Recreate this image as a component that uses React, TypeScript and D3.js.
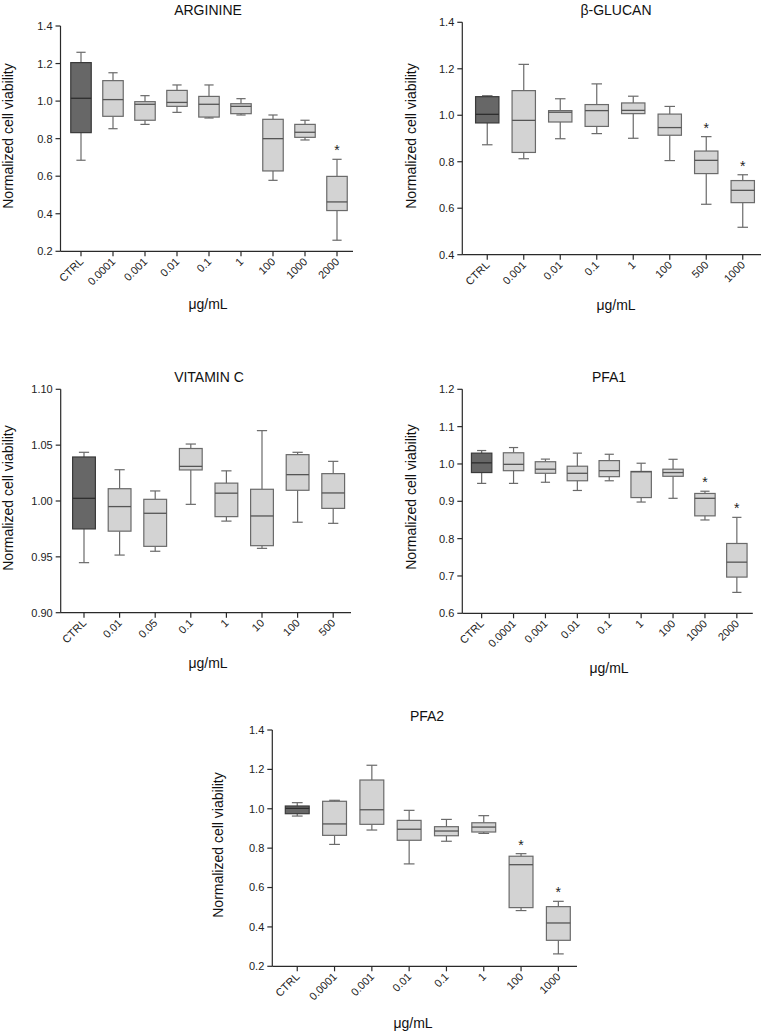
import React from "react";
import * as d3 from "d3";

// ---------- DATA ----------
// each stat row: [min, q1, median, q3, max]
const arginineDoses = ["CTRL", "0.0001", "0.001", "0.01", "0.1", "1", "100", "1000", "2000"];
const arginineStats: number[][] = [
  [0.685, 0.832, 1.015, 1.205, 1.26],
  [0.853, 0.919, 1.008, 1.109, 1.151],
  [0.876, 0.898, 0.983, 0.997, 1.029],
  [0.94, 0.972, 0.993, 1.057, 1.086],
  [0.91, 0.915, 0.983, 1.025, 1.086],
  [0.926, 0.933, 0.972, 0.986, 1.013],
  [0.578, 0.628, 0.8, 0.903, 0.926],
  [0.793, 0.807, 0.834, 0.876, 0.898],
  [0.259, 0.417, 0.463, 0.599, 0.69],
];
const arginineSig = [false, false, false, false, false, false, false, false, true];
const arginineTicks = [0.2, 0.4, 0.6, 0.8, 1.0, 1.2, 1.4];

const glucanDoses = ["CTRL", "0.001", "0.01", "0.1", "1", "100", "500", "1000"];
const glucanStats: number[][] = [
  [0.873, 0.967, 1.004, 1.08, 1.084],
  [0.813, 0.84, 0.978, 1.106, 1.219],
  [0.899, 0.971, 1.013, 1.02, 1.071],
  [0.921, 0.952, 1.02, 1.046, 1.135],
  [0.901, 1.007, 1.021, 1.053, 1.082],
  [0.805, 0.914, 0.947, 1.005, 1.038],
  [0.617, 0.749, 0.806, 0.846, 0.908],
  [0.518, 0.624, 0.677, 0.719, 0.744],
];
const glucanSig = [false, false, false, false, false, false, true, true];
const glucanTicks = [0.4, 0.6, 0.8, 1.0, 1.2, 1.4];

const vitaminCDoses = ["CTRL", "0.01", "0.05", "0.1", "1", "10", "100", "500"];
const vitaminCStats: number[][] = [
  [0.9448, 0.975, 1.0024, 1.0394, 1.0436],
  [0.9516, 0.973, 0.995, 1.011, 1.028],
  [0.955, 0.9594, 0.989, 1.0015, 1.009],
  [0.997, 1.0278, 1.031, 1.047, 1.051],
  [0.982, 0.986, 1.007, 1.016, 1.027],
  [0.9576, 0.96, 0.9866, 1.0105, 1.063],
  [0.981, 1.0096, 1.0236, 1.0415, 1.0436],
  [0.98, 0.9934, 1.0072, 1.0245, 1.0355],
];
const vitaminCSig = [false, false, false, false, false, false, false, false];
const vitaminCTicks = [0.9, 0.95, 1.0, 1.05, 1.1];

const pfa1Doses = ["CTRL", "0.0001", "0.001", "0.01", "0.1", "1", "100", "1000", "2000"];
const pfa1Stats: number[][] = [
  [0.948, 0.977, 1.003, 1.029, 1.036],
  [0.948, 0.982, 0.999, 1.03, 1.044],
  [0.951, 0.975, 0.986, 1.006, 1.013],
  [0.929, 0.955, 0.975, 0.994, 1.029],
  [0.955, 0.966, 0.982, 1.009, 1.026],
  [0.898, 0.91, 0.979, 0.98, 1.002],
  [0.908, 0.967, 0.977, 0.986, 1.0125],
  [0.85, 0.861, 0.908, 0.921, 0.927],
  [0.656, 0.697, 0.737, 0.787, 0.857],
];
const pfa1Sig = [false, false, false, false, false, false, false, true, true];
const pfa1Ticks = [0.6, 0.7, 0.8, 0.9, 1.0, 1.1, 1.2];

const pfa2Doses = ["CTRL", "0.0001", "0.001", "0.01", "0.1", "1", "100", "1000"];
const pfa2Stats: number[][] = [
  [0.963, 0.975, 1.002, 1.014, 1.031],
  [0.819, 0.865, 0.923, 1.038, 1.043],
  [0.892, 0.921, 0.995, 1.146, 1.221],
  [0.72, 0.84, 0.896, 0.941, 0.992],
  [0.835, 0.863, 0.887, 0.909, 0.946],
  [0.875, 0.882, 0.907, 0.929, 0.965],
  [0.483, 0.498, 0.716, 0.759, 0.772],
  [0.263, 0.332, 0.42, 0.503, 0.53],
];
const pfa2Sig = [false, false, false, false, false, false, true, true];
const pfa2Ticks = [0.2, 0.4, 0.6, 0.8, 1.0, 1.2, 1.4];

const yLabel = "Normalized cell viability";
const xLabel = "μg/mL";

// ---------- STYLE ----------
const FONT = "Arial, 'Liberation Sans', Helvetica, sans-serif";
const AXIS = "#2a2a2a";
const CTRL_FILL = "#676767";
const CTRL_STROKE = "#3a3a3a";
const BOX_FILL = "#d3d3d3";
const BOX_STROKE = "#6a6a6a";

type Layout = {
  axisX: number; top: number; bottom: number; bandStart: number; bandEnd: number;
  yDomain: [number, number]; fmt: string;
  titleX: number; titleY: number; ylabX: number; ylabY: number; xlabX: number; xlabY: number;
};

function Panel({ title, doses, stats, sig, ticks, L }: {
  title: string; doses: string[]; stats: number[][]; sig: boolean[]; ticks: number[]; L: Layout;
}) {
  const y = d3.scaleLinear().domain(L.yDomain).range([L.bottom, L.top]);
  const x = d3.scaleBand<string>().domain(doses).range([L.bandStart, L.bandEnd]).paddingInner(0).paddingOuter(0);
  const step = x.step();
  const bw = step * 0.64;
  const cw = bw * 0.45;
  const fmt = d3.format(L.fmt);
  return (
    <g>
      <text x={L.titleX} y={L.titleY} textAnchor="middle" fontSize={14} fontFamily={FONT} fill="#111">{title}</text>
      {/* y axis */}
      <line x1={L.axisX} x2={L.axisX} y1={L.top} y2={L.bottom} stroke={AXIS} strokeWidth={1.2} />
      {ticks.map((t) => (
        <g key={t}>
          <line x1={L.axisX - 5} x2={L.axisX} y1={y(t)} y2={y(t)} stroke={AXIS} strokeWidth={1.2} />
          <text x={L.axisX - 8} y={y(t)} dy="0.36em" textAnchor="end" fontSize={11} fontFamily={FONT} fill="#222">{fmt(t)}</text>
        </g>
      ))}
      {/* x axis */}
      <line x1={L.axisX} x2={L.bandEnd} y1={L.bottom} y2={L.bottom} stroke={AXIS} strokeWidth={1.2} />
      {doses.map((d) => {
        const cx = (x(d) as number) + step / 2;
        return (
          <g key={d}>
            <line x1={cx} x2={cx} y1={L.bottom} y2={L.bottom + 5} stroke={AXIS} strokeWidth={1.2} />
            <text transform={`translate(${cx + 3},${L.bottom + 11}) rotate(-45)`} textAnchor="end" fontSize={11} fontFamily={FONT} fill="#222">{d}</text>
          </g>
        );
      })}
      {/* boxes */}
      {stats.map((s, i) => {
        const d = doses[i];
        const cx = (x(d) as number) + step / 2;
        const isCtrl = i === 0;
        const fill = isCtrl ? CTRL_FILL : BOX_FILL;
        const stroke = isCtrl ? CTRL_STROKE : BOX_STROKE;
        const [mn, q1, md, q3, mx] = s;
        return (
          <g key={d}>
            <line x1={cx} x2={cx} y1={y(mx)} y2={y(q3)} stroke={BOX_STROKE} strokeWidth={1.2} />
            <line x1={cx} x2={cx} y1={y(q1)} y2={y(mn)} stroke={BOX_STROKE} strokeWidth={1.2} />
            <line x1={cx - cw / 2} x2={cx + cw / 2} y1={y(mx)} y2={y(mx)} stroke={BOX_STROKE} strokeWidth={1.2} />
            <line x1={cx - cw / 2} x2={cx + cw / 2} y1={y(mn)} y2={y(mn)} stroke={BOX_STROKE} strokeWidth={1.2} />
            <rect x={cx - bw / 2} y={y(q3)} width={bw} height={y(q1) - y(q3)} fill={fill} stroke={stroke} strokeWidth={1.2} />
            <line x1={cx - bw / 2} x2={cx + bw / 2} y1={y(md)} y2={y(md)} stroke={isCtrl ? "#2e2e2e" : "#555"} strokeWidth={1.3} />
            {sig[i] && (
              <text x={cx} y={y(mx) - 4} textAnchor="middle" fontSize={14} fontFamily={FONT} fill="#222">*</text>
            )}
          </g>
        );
      })}
      <text transform={`translate(${L.ylabX},${L.ylabY}) rotate(-90)`} textAnchor="middle" dominantBaseline="central" fontSize={14} fontFamily={FONT} fill="#111">{yLabel}</text>
      <text x={L.xlabX} y={L.xlabY} textAnchor="middle" fontSize={14} fontFamily={FONT} fill="#111">{xLabel}</text>
    </g>
  );
}

const L1: Layout = { axisX: 60.5, top: 26, bottom: 251.3, bandStart: 65, bandEnd: 353, yDomain: [0.2, 1.4], fmt: ".1f",
  titleX: 208, titleY: 15, ylabX: 7.5, ylabY: 136, xlabX: 208, xlabY: 309 };
const L2: Layout = { axisX: 462.3, top: 22.3, bottom: 254.7, bandStart: 469, bandEnd: 761, yDomain: [0.4, 1.4], fmt: ".1f",
  titleX: 616, titleY: 15, ylabX: 410.7, ylabY: 136, xlabX: 616, xlabY: 310 };
const L3: Layout = { axisX: 60.7, top: 389.3, bottom: 612.7, bandStart: 66.2, bandEnd: 351, yDomain: [0.9, 1.1], fmt: ".2f",
  titleX: 209, titleY: 381.7, ylabX: 7.5, ylabY: 498, xlabX: 208, xlabY: 668 };
const L4: Layout = { axisX: 462.3, top: 389.3, bottom: 613.3, bandStart: 465.7, bandEnd: 752.8, yDomain: [0.6, 1.2], fmt: ".1f",
  titleX: 609, titleY: 381.7, ylabX: 410.7, ylabY: 497, xlabX: 609, xlabY: 673 };
const L5: Layout = { axisX: 272.3, top: 730, bottom: 966.3, bandStart: 278.6, bandEnd: 577, yDomain: [0.2, 1.4], fmt: ".1f",
  titleX: 427, titleY: 721, ylabX: 218.3, ylabY: 845, xlabX: 413, xlabY: 1028 };

export default function App() {
  return (
    <svg width={768} height={1032} style={{ position: "absolute", left: 0, top: 0, background: "#fff" }}>
      <rect width={768} height={1032} fill="#fff" />
      <Panel title="ARGININE" doses={arginineDoses} stats={arginineStats} sig={arginineSig} ticks={arginineTicks} L={L1} />
      <Panel title="β-GLUCAN" doses={glucanDoses} stats={glucanStats} sig={glucanSig} ticks={glucanTicks} L={L2} />
      <Panel title="VITAMIN C" doses={vitaminCDoses} stats={vitaminCStats} sig={vitaminCSig} ticks={vitaminCTicks} L={L3} />
      <Panel title="PFA1" doses={pfa1Doses} stats={pfa1Stats} sig={pfa1Sig} ticks={pfa1Ticks} L={L4} />
      <Panel title="PFA2" doses={pfa2Doses} stats={pfa2Stats} sig={pfa2Sig} ticks={pfa2Ticks} L={L5} />
    </svg>
  );
}
